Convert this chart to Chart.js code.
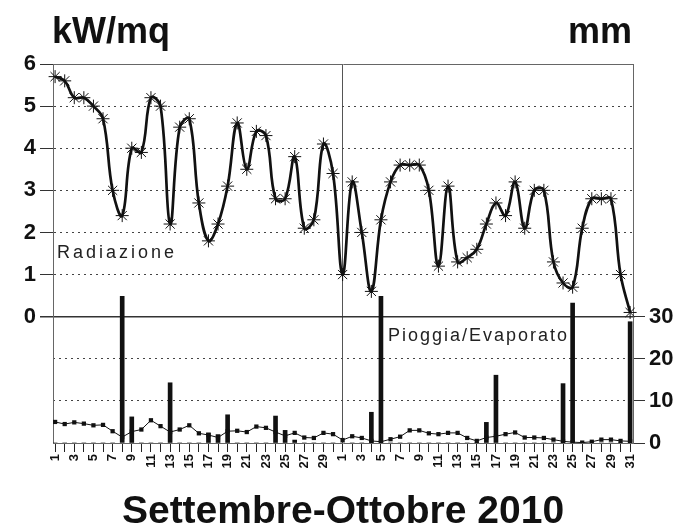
<!DOCTYPE html>
<html>
<head>
<meta charset="utf-8">
<script src="https://cdn.jsdelivr.net/npm/chart.js@4/dist/chart.umd.min.js"></script>
<style>
  body { margin: 0; background: #fff; }
  #wrap { position: relative; width: 694px; height: 528px; font-family: "Liberation Sans", Arial, sans-serif; }
  #meteoChart { display: block; }
  .lbl { position: absolute; white-space: nowrap; color: #111; line-height: 1; }
  .unit { font-size: 36px; font-weight: bold; }
  .note { font-size: 18px; font-weight: normal; color: #222; }
</style>
</head>
<body>
<div id="wrap">
  <canvas id="meteoChart" width="694" height="528"></canvas>
  <div class="lbl unit" style="left:52px; top:13px;">kW/mq</div>
  <div class="lbl unit" style="right:62px; top:13px;">mm</div>
  <div class="lbl note" style="left:57px; top:243px; letter-spacing:3px;">Radiazione</div>
  <div class="lbl note" style="left:388px; top:326px; letter-spacing:2px;">Pioggia/Evaporato</div>
</div>
<script>
// giorni: settembre 1-30, ottobre 1-31
const dayLabels = [
  '1','2','3','4','5','6','7','8','9','10','11','12','13','14','15','16','17','18','19','20',
  '21','22','23','24','25','26','27','28','29','30',
  '1','2','3','4','5','6','7','8','9','10','11','12','13','14','15','16','17','18','19','20',
  '21','22','23','24','25','26','27','28','29','30','31'
];

// radiazione kW/mq
const radiazione = [
  5.7, 5.6, 5.2, 5.2, 5.0, 4.7, 3.0, 2.4, 4.0, 3.9, 5.2, 5.0, 2.2, 4.5, 4.7,
  2.7, 1.8, 2.2, 3.1, 4.6, 3.5, 4.4, 4.3, 2.8, 2.8, 3.8, 2.1, 2.3, 4.1, 3.4,
  1.0, 3.2, 2.0, 0.6, 2.3, 3.2, 3.6, 3.6, 3.6, 3.0, 1.2, 3.1, 1.3, 1.4, 1.6,
  2.2, 2.7, 2.4, 3.2, 2.1, 3.0, 3.0, 1.3, 0.8, 0.7, 2.1, 2.8, 2.8, 2.8, 1.0, 0.1
];

// pioggia mm
const pioggia = [
  0, 0, 0, 0, 0, 0, 0, 34.8, 6.2, 0, 0, 0, 14.3, 0, 0,
  0, 2.4, 2.0, 6.7, 0, 0, 0, 0, 6.4, 3.0, 0.7, 0, 0, 0, 0,
  0, 0, 0, 7.3, 34.8, 0, 0, 0, 0, 0, 0, 0, 0, 0, 0,
  4.9, 16.1, 0, 0, 0, 0, 0, 0, 14.1, 33.2, 0, 0, 0, 0, 0, 28.8
];

// evaporato mm
const evaporato = [
  5.0, 4.5, 4.9, 4.6, 4.2, 4.3, 2.8, 1.4, 2.7, 3.2, 5.4, 4.0, 2.6, 3.2, 4.2,
  2.3, 1.9, 1.3, 2.8, 2.9, 2.6, 3.9, 3.6, 2.6, 1.7, 2.4, 1.3, 1.2, 2.4, 2.1,
  0.7, 1.6, 1.2, 0.5, 0.3, 0.9, 1.5, 3.0, 3.0, 2.3, 2.1, 2.4, 2.4, 1.2, 0.5,
  1.3, 1.6, 2.1, 2.5, 1.3, 1.3, 1.2, 0.8, 0.4, 0.2, 0.1, 0.3, 0.8, 0.8, 0.5, 0.4
];

const FONT = "'Liberation Sans', Arial, sans-serif";
const NONE = 'rgba(0,0,0,0)';
const dotted = [2, 4];

function toPoints(arr) {
  return arr.map((v, i) => ({ x: i + 1, y: v }));
}

const ctx = document.getElementById('meteoChart').getContext('2d');

new Chart(ctx, {
  type: 'bar',
  data: {
    datasets: [
      {
        type: 'line',
        label: 'Radiazione',
        data: toPoints(radiazione),
        yAxisID: 'y',
        borderColor: '#111',
        borderWidth: 2.7,
        tension: 0.4,
        pointStyle: 'star',
        pointRadius: 6.5,
        pointBorderWidth: 1,
        pointBorderColor: '#111',
        pointBackgroundColor: '#111',
        clip: false,
        order: 0
      },
      {
        type: 'bar',
        label: 'Pioggia',
        data: toPoints(pioggia),
        yAxisID: 'y2',
        backgroundColor: '#111',
        barThickness: 4,
        order: 1
      },
      {
        type: 'line',
        label: 'Evaporato',
        data: toPoints(evaporato),
        yAxisID: 'y2',
        borderColor: '#111',
        borderWidth: 1,
        tension: 0,
        pointStyle: 'rect',
        pointRadius: 3,
        pointBorderWidth: 0,
        pointBackgroundColor: '#111',
        order: 2
      }
    ]
  },
  options: {
    responsive: false,
    animation: false,
    devicePixelRatio: 1,
    layout: { padding: { top: 64, left: 0, right: 0, bottom: 0 } },
    plugins: {
      legend: { display: false },
      tooltip: { enabled: false }
    },
    scales: {
      x: {
        type: 'linear',
        position: 'bottom',
        min: 0.78,
        max: 61.3,
        offset: false,
        afterFit: s => { s.height = 85; },
        border: { color: '#666', width: 1 },
        grid: {
          offset: false,
          color: c => (c.tick && c.tick.value === 31) ? '#555' : NONE,
          tickColor: '#222',
          tickLength: 9,
          lineWidth: 1
        },
        ticks: {
          stepSize: 1,
          autoSkip: false,
          includeBounds: false,
          minRotation: 90,
          maxRotation: 90,
          padding: 2,
          color: '#111',
          font: { family: FONT, size: 13, weight: 'bold' },
          callback: v => (v % 2 === 1 ? dayLabels[v - 1] : '')
        },
        title: {
          display: true,
          text: 'Settembre-Ottobre 2010',
          color: '#111',
          font: { family: FONT, size: 39, weight: 'bold', lineHeight: 0.79 },
          padding: { top: 0, bottom: 0 }
        }
      },
      y: {
        type: 'linear',
        position: 'left',
        min: -3,
        max: 6,
        afterFit: s => { s.width = 53; },
        border: {
          color: '#666',
          dash: c => (c.tick && c.tick.value > 0 && c.tick.value < 6) ? dotted : []
        },
        grid: {
          color: c => {
            if (!c.tick) return NONE;
            const v = c.tick.value;
            if (v === 0) return '#333';
            if (v === 6) return '#666';
            if (v > 0 && v < 6) return '#444';
            return NONE;
          },
          lineWidth: c => (c.tick && c.tick.value === 0) ? 1.5 : 1,
          tickColor: c => (c.tick && c.tick.value >= 0) ? '#333' : NONE,
          tickLength: 13
        },
        ticks: {
          stepSize: 1,
          padding: 4,
          color: '#111',
          font: { family: FONT, size: 22, weight: 'bold' },
          callback: v => (v >= 0 ? v : '')
        }
      },
      y2: {
        type: 'linear',
        position: 'right',
        min: 0,
        max: 90,
        afterFit: s => { s.width = 61; },
        border: {
          color: '#666',
          dash: c => (c.tick && (c.tick.value === 10 || c.tick.value === 20)) ? dotted : []
        },
        grid: {
          color: c => (c.tick && (c.tick.value === 10 || c.tick.value === 20)) ? '#444' : NONE,
          tickColor: c => (c.tick && c.tick.value <= 30) ? '#333' : NONE,
          tickLength: 12
        },
        ticks: {
          stepSize: 10,
          padding: 4,
          color: '#111',
          font: { family: FONT, size: 22, weight: 'bold' },
          callback: v => (v <= 30 ? v : '')
        }
      }
    }
  }
});
</script>
</body>
</html>
